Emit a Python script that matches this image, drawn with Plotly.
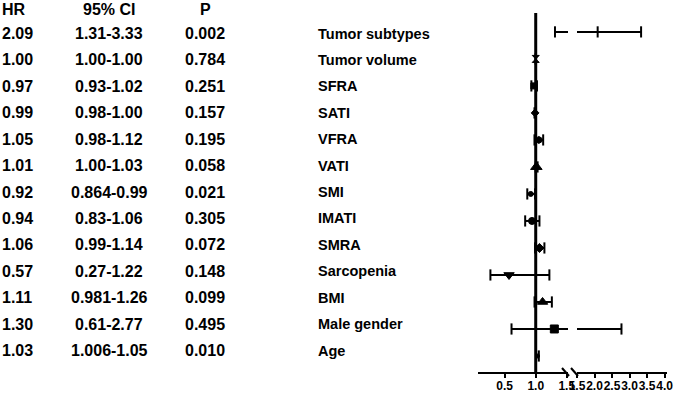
import plotly.graph_objects as go

# ---------------- data ----------------
variables = ["Tumor subtypes", "Tumor volume", "SFRA", "SATI", "VFRA", "VATI", "SMI",
             "IMATI", "SMRA", "Sarcopenia", "BMI", "Male gender", "Age"]
hr = [2.09, 1.00, 0.97, 0.99, 1.05, 1.01, 0.92, 0.94, 1.06, 0.57, 1.11, 1.30, 1.03]
ci_low = [1.31, 1.00, 0.93, 0.98, 0.98, 1.00, 0.864, 0.83, 0.99, 0.27, 0.981, 0.61, 1.006]
ci_high = [3.33, 1.00, 1.02, 1.00, 1.12, 1.03, 0.99, 1.06, 1.14, 1.22, 1.26, 2.77, 1.05]
hr_text = ["2.09", "1.00", "0.97", "0.99", "1.05", "1.01", "0.92", "0.94", "1.06",
           "0.57", "1.11", "1.30", "1.03"]
ci_text = ["1.31-3.33", "1.00-1.00", "0.93-1.02", "0.98-1.00", "0.98-1.12", "1.00-1.03",
           "0.864-0.99", "0.83-1.06", "0.99-1.14", "0.27-1.22", "0.981-1.26",
           "0.61-2.77", "1.006-1.05"]
p_text = ["0.002", "0.784", "0.251", "0.157", "0.195", "0.058", "0.021", "0.305",
          "0.072", "0.148", "0.099", "0.495", "0.010"]
headers = ["HR", "95% CI", "P"]
ticks_low = [0.5, 1.0, 1.5]
ticks_high = [1.5, 2.0, 2.5, 3.0, 3.5, 4.0]

# ---------------- styles ----------------
symbols = ["line-ns-open", "hourglass", "square", "diamond", "hexagon", "triangle-up",
           "circle", "circle", "diamond", "triangle-down", "triangle-up", "square", "circle"]
msizes = [8, 7, 6, 6, 7, 10, 5, 7, 7, 9, 9, 8, 4]
mline = [2 if s.endswith("-open") else 1 for s in symbols]

W, H = 675, 394
TOP, AXIS_Y = 13, 372
PH = AXIS_Y - TOP
SEG1 = (478, 568)
SEG2 = (577, 667)
FONT = "Arial, Liberation Sans, Helvetica, sans-serif"

n = len(variables)
rows = list(range(n, 0, -1))

fig = go.Figure()
for xa in ["x", "x2"]:
    lx, ly = [], []
    for lo, hi, r in zip(ci_low, ci_high, rows):
        lx += [lo, hi, None]
        ly += [r, r, None]
    fig.add_trace(go.Scatter(x=lx, y=ly, xaxis=xa, yaxis="y", mode="lines",
                             line=dict(color="black", width=2), hoverinfo="skip"))
    fig.add_trace(go.Scatter(x=ci_low + ci_high, y=rows + rows, xaxis=xa, yaxis="y",
                             mode="markers", hoverinfo="skip",
                             marker=dict(symbol="line-ns-open", size=8, color="black",
                                         line=dict(color="black", width=2))))
    fig.add_trace(go.Scatter(x=hr, y=rows, xaxis=xa, yaxis="y", mode="markers",
                             marker=dict(symbol=symbols, size=msizes, color="black",
                                         opacity=1,
                                         line=dict(color="black", width=mline))))

# reference line at HR = 1
fig.add_shape(type="line", xref="x", yref="paper", x0=1.0, x1=1.0, y0=0, y1=1,
              line=dict(color="black", width=3), layer="above")


def px_x(p):
    return p / W


def px_y(p):
    return (AXIS_Y - p) / PH


# axis break marks
for x0 in (562, 571):
    fig.add_shape(type="line", xref="paper", yref="paper",
                  x0=px_x(x0), y0=px_y(368), x1=px_x(x0 + 7), y1=px_y(376),
                  line=dict(color="black", width=2))

# table text
num_font = dict(family=FONT, size=16, color="black", weight="bold")
lab_font = dict(family=FONT, size=14.5, color="black", weight="bold")
col_x = [(0, "left"), (109, "center"), (205, "center")]
for (cx, anc), h in zip(col_x, headers):
    fig.add_annotation(text=h, xref="paper", yref="paper", x=px_x(cx), y=px_y(10),
                       xanchor=anc, yanchor="middle", showarrow=False, font=num_font)
for r, a, b, c, v in zip(rows, hr_text, ci_text, p_text, variables):
    for (cx, anc), t in zip(col_x, (a, b, c)):
        fig.add_annotation(text=t, xref="paper", yref="y2", x=px_x(cx), y=r,
                           xanchor=anc, yanchor="middle", showarrow=False, font=num_font)
    fig.add_annotation(text=v, xref="paper", yref="y2", x=px_x(316), y=r,
                       xanchor="left", yanchor="middle", showarrow=False, font=lab_font)

axis_common = dict(showline=True, linewidth=2, linecolor="black", ticks="outside",
                   ticklen=4, tickwidth=2, tickcolor="black", showgrid=False,
                   zeroline=False, anchor="y", fixedrange=True, tickangle=0,
                   ticklabelstandoff=-2,
                   tickfont=dict(family=FONT, size=12, color="black", weight="bold"))

fig.update_layout(
    width=W, height=H,
    margin=dict(l=0, r=0, t=TOP, b=H - AXIS_Y, pad=0, autoexpand=False),
    paper_bgcolor="white", plot_bgcolor="white",
    showlegend=False,
    xaxis=dict(domain=[px_x(SEG1[0]), px_x(SEG1[1])], range=[0.07, 1.52],
               tickvals=ticks_low, ticktext=[f"{t:.1f}" for t in ticks_low], **axis_common),
    xaxis2=dict(domain=[px_x(SEG2[0]), px_x(SEG2[1])], range=[1.5, 4.07],
                tickvals=ticks_high, ticktext=[f"{t:.1f}" for t in ticks_high], **axis_common),
    yaxis=dict(domain=[0, 1], range=[0.407, 13.70], visible=False, fixedrange=True),
    yaxis2=dict(overlaying="y", anchor="x", range=[0.186, 13.776], visible=False,
                fixedrange=True),
)

# remove the browser's default 8px page margin so the figure fills the window
fig.write_html("out.html",
               config={"displayModeBar": False},
               post_script="document.body.style.margin='0px';"
                           "document.body.style.overflow='hidden';")
